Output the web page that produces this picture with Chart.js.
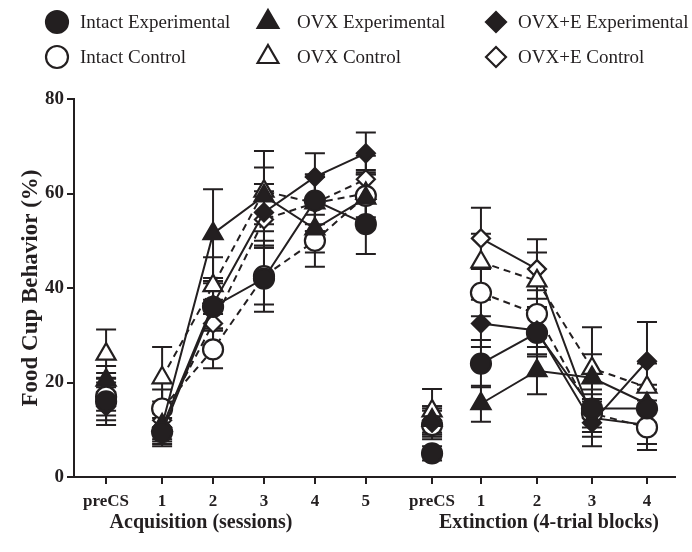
<!DOCTYPE html>
<html>
<head>
<meta charset="utf-8">
<script src="https://cdn.jsdelivr.net/npm/chart.js@4.4.1/dist/chart.umd.min.js"></script>
<style>
  html, body { margin: 0; padding: 0; background: #ffffff; }
  #wrap { position: relative; width: 692px; height: 552px; }
</style>
</head>
<body>
<div id="wrap"><canvas id="c" width="692" height="552"></canvas></div>
<script>
// ---- categories / tick labels ----
const acqLabels = ['preCS', '1', '2', '3', '4', '5'];
const extLabels = ['preCS', '1', '2', '3', '4'];
// positions of the categories on the linear x axis (data units)
const acqX = [0.63, 1.73, 2.73, 3.73, 4.73, 5.73];
const extX = [7.03, 7.99, 9.09, 10.17, 11.25];
const yTicks = [0, 20, 40, 60, 80];

const seriesNames = ['Intact Experimental', 'OVX Experimental', 'OVX+E Experimental',
                     'Intact Control', 'OVX Control', 'OVX+E Control'];

// ---- values (% food cup behavior), acquisition: preCS,1..5 ; extinction: preCS,1..4 ----
const intactExpAcq = [16, 9.5, 36, 42, 58.5, 53.5];
const intactExpExt = [5, 24, 30.5, 14.5, 14.5];
const ovxExpAcq    = [20.5, 11, 51.5, 59.5, 52.5, 59];
const ovxExpExt    = [12, 15.5, 22.5, 21, 15.5];
const ovxeExpAcq   = [15, 10.5, 36.5, 56, 63.5, 68.5];
const ovxeExpExt   = [11.5, 32.5, 31, 11.5, 24.5];
const intactCtlAcq = [17, 14.5, 27, 42.5, 50, 59.5];
const intactCtlExt = [11, 39, 34.5, 13.5, 10.5];
const ovxCtlAcq    = [26, 21, 40.5, 60.5, 58, 60];
const ovxCtlExt    = [14, 45.5, 41.5, 23, 19];
const ovxeCtlAcq   = [18, 12, 32.5, 54.5, 58, 63];
const ovxeCtlExt   = [12, 50.5, 44, 12.5, 11];

// ---- SEM ----
const intactExpAcqErr = [4, 3, 5, 7, 5, 6.3];
const intactExpExtErr = [1.5, 5, 5, 4, 4];
const ovxExpAcqErr    = [3, 4, 9.4, 6, 5, 5];
const ovxExpExtErr    = [3, 3.8, 5, 5, 4];
const ovxeExpAcqErr   = [4, 3, 5, 6, 5, 4.4];
const ovxeExpExtErr   = [3, 5, 5, 5, 8.3];
const intactCtlAcqErr = [4, 4, 4, 6, 5.5, 5];
const intactCtlExtErr = [3, 5, 5, 4, 4.8];
const ovxCtlAcqErr    = [5.2, 6.5, 6, 8.5, 6, 5];
const ovxCtlExtErr    = [4.6, 6, 6, 8.7, 5];
const ovxeCtlAcqErr   = [4, 4, 5, 6, 6, 5];
const ovxeCtlExtErr   = [3, 6.5, 6.3, 4, 4];

const INK = '#231f20';
const SERIF = '"Liberation Serif", "Times New Roman", Times, serif';
const DASH = [7, 5];

// build points with gaps so preCS points stand alone and the two phases are separate
function buildPoints(acq, ext, acqErr, extErr) {
  const pts = [];
  pts.push({ x: acqX[0], y: acq[0], e: acqErr[0] });
  pts.push({ x: (acqX[0] + acqX[1]) / 2, y: null });
  for (let i = 1; i < acq.length; i++) pts.push({ x: acqX[i], y: acq[i], e: acqErr[i] });
  pts.push({ x: (acqX[5] + extX[0]) / 2, y: null });
  pts.push({ x: extX[0], y: ext[0], e: extErr[0] });
  pts.push({ x: (extX[0] + extX[1]) / 2, y: null });
  for (let i = 1; i < ext.length; i++) pts.push({ x: extX[i], y: ext[i], e: extErr[i] });
  return pts;
}

const seriesData = [
  buildPoints(intactExpAcq, intactExpExt, intactExpAcqErr, intactExpExtErr),
  buildPoints(ovxExpAcq, ovxExpExt, ovxExpAcqErr, ovxExpExtErr),
  buildPoints(ovxeExpAcq, ovxeExpExt, ovxeExpAcqErr, ovxeExpExtErr),
  buildPoints(intactCtlAcq, intactCtlExt, intactCtlAcqErr, intactCtlExtErr),
  buildPoints(ovxCtlAcq, ovxCtlExt, ovxCtlAcqErr, ovxCtlExtErr),
  buildPoints(ovxeCtlAcq, ovxeCtlExt, ovxeCtlAcqErr, ovxeCtlExtErr)
];

// line style per phase: [acquisition dash, extinction dash]
const styles = [
  { shape: 'circle',   filled: true,  r: 10, dash: [[], []] },
  { shape: 'triangle', filled: true,  r: 11, dash: [[], []] },
  { shape: 'rectRot',  filled: true,  r: 9,  dash: [[], []] },
  { shape: 'circle',   filled: false, r: 10, dash: [DASH, DASH] },
  { shape: 'triangle', filled: false, r: 11, dash: [DASH, DASH] },
  { shape: 'rectRot',  filled: false, r: 9,  dash: [DASH, []] }
];

const phaseSplit = (acqX[5] + extX[0]) / 2;

const datasets = seriesNames.map((name, i) => ({
  label: name,
  data: seriesData[i],
  borderColor: INK,
  borderWidth: 2,
  segment: {
    borderDash: c => (c.p0.parsed.x > phaseSplit ? styles[i].dash[1] : styles[i].dash[0])
  },
  pointStyle: styles[i].shape,
  pointRadius: styles[i].r,
  pointHoverRadius: styles[i].r,
  pointBackgroundColor: styles[i].filled ? INK : '#ffffff',
  pointBorderColor: INK,
  pointBorderWidth: 2.2,
  spanGaps: false,
  tension: 0,
  fill: false
}));

const allX = acqX.concat(extX);
const allLabels = acqLabels.concat(extLabels);

const errorBars = {
  id: 'errorBars',
  beforeDatasetsDraw(chart) {
    const ctx = chart.ctx;
    const ys = chart.scales.y, xs = chart.scales.x;
    ctx.save();
    ctx.strokeStyle = INK;
    ctx.lineWidth = 2;
    ctx.setLineDash([]);
    chart.data.datasets.forEach(ds => {
      ds.data.forEach(p => {
        if (p.y === null || p.e === undefined) return;
        const px = xs.getPixelForValue(p.x);
        const top = ys.getPixelForValue(p.y + p.e);
        const bot = ys.getPixelForValue(p.y - p.e);
        const cap = 10;
        ctx.beginPath();
        ctx.moveTo(px, top); ctx.lineTo(px, bot);
        ctx.moveTo(px - cap, top); ctx.lineTo(px + cap, top);
        ctx.moveTo(px - cap, bot); ctx.lineTo(px + cap, bot);
        ctx.stroke();
      });
    });
    ctx.restore();
  }
};

const extras = {
  id: 'extras',
  afterDraw(chart) {
    const ctx = chart.ctx;
    ctx.save();
    // bottom phase titles
    ctx.fillStyle = INK;
    ctx.font = 'bold 20px ' + SERIF;
    ctx.textAlign = 'center';
    ctx.textBaseline = 'middle';
    ctx.fillText('Acquisition (sessions)', 201, 523);
    ctx.fillText('Extinction (4-trial blocks)', 549, 523);
    // legend
    const cols = [57, 268, 496];
    const rows = [22, 57];
    ctx.font = '19px ' + SERIF;
    ctx.textAlign = 'left';
    seriesNames.forEach((name, i) => {
      const col = i % 3, row = Math.floor(i / 3);
      const st = styles[i];
      const mx = cols[col], my = rows[row];
      ctx.fillStyle = st.filled ? INK : '#ffffff';
      ctx.strokeStyle = INK;
      ctx.lineWidth = 2.2;
      ctx.setLineDash([]);
      Chart.helpers.drawPoint(ctx, { pointStyle: st.shape, radius: st.r + 1, borderWidth: 2.2, rotation: 0 }, mx, my);
      ctx.fillStyle = INK;
      ctx.fillText(name, mx + (col === 0 ? 23 : (col === 1 ? 29 : 22)), my + 1);
    });
    ctx.restore();
  }
};

new Chart(document.getElementById('c'), {
  type: 'line',
  data: { datasets },
  plugins: [errorBars, extras],
  options: {
    responsive: false,
    animation: false,
    events: [],
    layout: { padding: { top: 99, right: 17, left: 0, bottom: 0 } },
    plugins: { legend: { display: false }, tooltip: { enabled: false } },
    scales: {
      x: {
        type: 'linear',
        min: 0,
        max: 11.8,
        afterFit(scale) { scale.height = 75; },
        afterBuildTicks(axis) { axis.ticks = allX.map(v => ({ value: v })); },
        grid: { drawOnChartArea: false, drawTicks: true, tickLength: 7, color: INK, lineWidth: 2 },
        border: { display: true, color: INK, width: 2 },
        ticks: {
          autoSkip: false, maxRotation: 0, minRotation: 0, padding: 7,
          color: INK,
          font: { family: SERIF, size: 17, weight: 'bold' },
          callback(value) {
            const i = allX.findIndex(v => Math.abs(v - value) < 1e-6);
            return i >= 0 ? allLabels[i] : '';
          }
        }
      },
      y: {
        min: 0,
        max: 80,
        afterFit(scale) { scale.width = 74; },
        afterBuildTicks(axis) { axis.ticks = yTicks.map(v => ({ value: v })); },
        grid: { drawOnChartArea: false, drawTicks: true, tickLength: 7, color: INK, lineWidth: 2 },
        border: { display: true, color: INK, width: 2 },
        ticks: {
          padding: 3, color: INK,
          font: { family: SERIF, size: 19, weight: 'bold' }
        },
        title: {
          display: true,
          text: 'Food Cup Behavior (%)',
          color: INK,
          font: { family: SERIF, size: 23, weight: 'bold' },
          padding: { top: 17, bottom: 0 }
        }
      }
    }
  }
});
</script>
</body>
</html>
